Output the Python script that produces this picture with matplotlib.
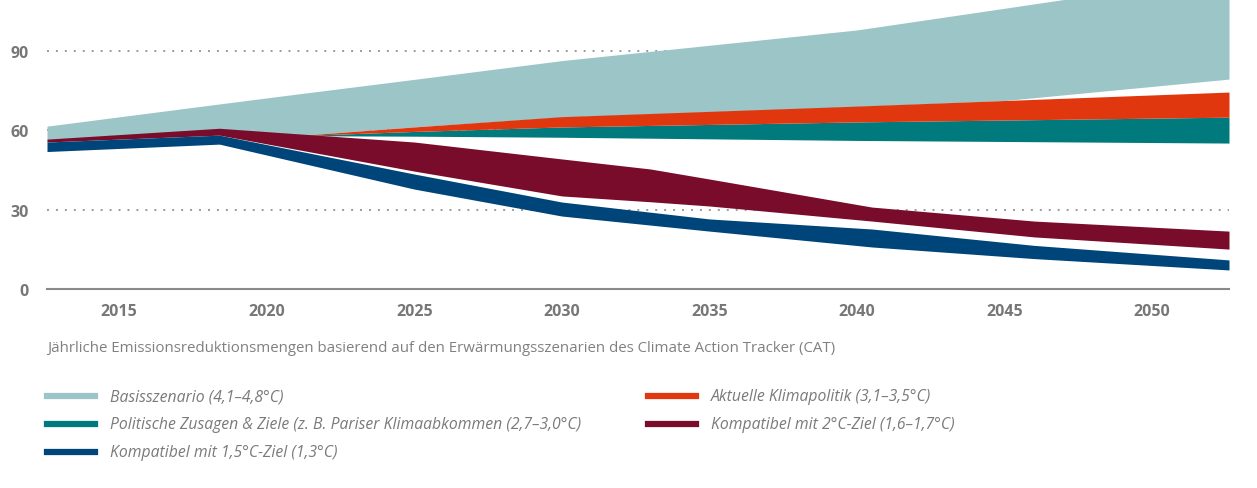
import matplotlib
matplotlib.use("Agg")
import matplotlib.pyplot as plt
from matplotlib.lines import Line2D

plt.rcParams["font.family"] = ["Open Sans", "DejaVu Sans"]

W, H = 1257, 489

# --- data ----------------------------------------------------------------
basis_years = [2012.56, 2018.4, 2021.0, 2025.0, 2030.0, 2040.0, 2045.0, 2052.6]
basis_low = [56.0, 59.5, 58.0, 61.3, 65.0, 69.0, 71.3, 79.4]
basis_high = [61.6, 70.0, 73.7, 79.3, 86.4, 98.0, 106.2, 118.8]

pledge_years = [2021.0, 2025.0, 2030.0, 2040.0, 2052.6]
pledge_low = [58.0, 57.8, 57.4, 56.2, 55.2]
pledge_high = [58.0, 59.6, 61.3, 63.2, 65.0]

current_years = [2021.0, 2025.0, 2030.0, 2040.0, 2052.6]
current_low = pledge_high
current_high = [58.0, 61.3, 65.2, 69.2, 74.5]

two_years = [2012.56, 2018.4, 2025.0, 2030.0, 2033.0, 2035.0, 2040.5, 2046.0, 2052.6]
two_low = [55.6, 58.2, 44.6, 35.2, 33.0, 31.4, 25.7, 19.7, 15.1]
two_high = [56.7, 60.8, 55.6, 49.2, 45.4, 41.6, 31.0, 25.7, 21.9]

one5_years = [2012.56, 2018.4, 2025.0, 2030.0, 2035.0, 2040.5, 2046.0, 2052.6]
one5_low = [52.0, 54.8, 37.8, 27.6, 21.9, 15.9, 11.5, 7.2]
one5_high = [55.6, 58.2, 43.5, 32.9, 26.5, 22.7, 16.5, 11.0]

labels = [
    "Basisszenario (4,1–4,8°C)",
    "Politische Zusagen & Ziele (z. B. Pariser Klimaabkommen (2,7–3,0°C)",
    "Kompatibel mit 1,5°C-Ziel (1,3°C)",
    "Aktuelle Klimapolitik (3,1–3,5°C)",
    "Kompatibel mit 2°C-Ziel (1,6–1,7°C)",
]
colors = ["#9cc5c8", "#007a7c", "#00457a", "#e0370f", "#7a0c2b"]

xticks = [2015, 2020, 2025, 2030, 2035, 2040, 2045, 2050]
yticks = [0, 30, 60, 90]

caption = ("Jährliche Emissionsreduktionsmengen basierend auf den "
           "Erwärmungsszenarien des Climate Action Tracker (CAT)")

# --- figure --------------------------------------------------------------
fig = plt.figure(figsize=(W / 100, H / 100), dpi=100)
ax = fig.add_axes([47 / W, 1 - 290 / H, (1229 - 47) / W, 290 / H])

grey = "#777777"
for y in yticks[1:]:
    ax.axhline(y, color="#9a9a9a", lw=1.4, ls=(0, (1, 3.6)), zorder=0)
ax.axhline(0, color="#8a8a8a", lw=1.5, zorder=6, clip_on=False)

ax.fill_between(basis_years, basis_low, basis_high, color=colors[0], lw=0, zorder=1)
ax.fill_between(pledge_years, pledge_low, pledge_high, color=colors[1], lw=0, zorder=2)
ax.fill_between(current_years, current_low, current_high, color=colors[3], lw=0, zorder=2)
ax.fill_between(two_years, two_low, two_high, color=colors[4], lw=0, zorder=3)
ax.fill_between(one5_years, one5_low, one5_high, color=colors[2], lw=0, zorder=4)

ax.set_xlim(2012.56, 2052.6)
ax.set_ylim(0, 109.7)
ax.set_xticks(xticks)
ax.set_yticks(yticks)
ax.tick_params(length=0, colors=grey, labelsize=11.5)
ax.tick_params(axis="x", pad=10)
ax.tick_params(axis="y", pad=13)
for lab in ax.get_xticklabels() + ax.get_yticklabels():
    lab.set_fontweight("bold")
for s in ax.spines.values():
    s.set_visible(False)

fig.text(47 / W, 1 - 348 / H, caption, color="#808080", fontsize=10.8,
         va="center", ha="left")

# legend, two columns
rows = [397, 425, 453]
slots = [(47, 0), (47, 1), (47, 2), (648, 0), (648, 1)]
for (x0, r), lab, c in zip(slots, labels, colors):
    yf = 1 - rows[r] / H
    fig.add_artist(Line2D([x0 / W, (x0 + 48) / W], [yf, yf], color=c, lw=4.5,
                          transform=fig.transFigure))
    fig.text((x0 + 63) / W, yf, lab, color="#7a7a7a", fontsize=11.3,
             style="italic", va="center", ha="left")

fig.savefig("out.png", dpi=100)
